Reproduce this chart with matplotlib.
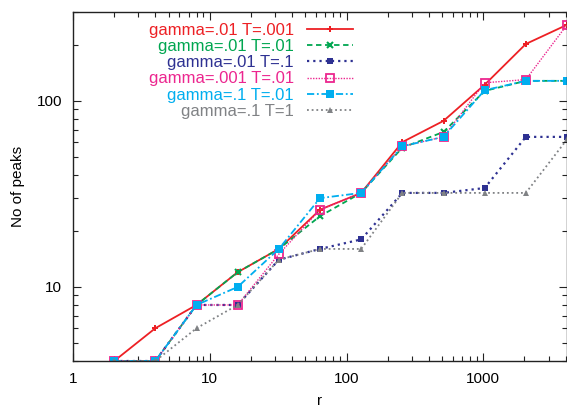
import matplotlib
matplotlib.use("Agg")
import matplotlib.pyplot as plt
from matplotlib.ticker import LogLocator, NullFormatter, FixedLocator, FixedFormatter

plt.rcParams['font.family'] = ['Liberation Sans', 'DejaVu Sans']

# data
r = [2, 4, 8, 16, 32, 64, 128, 256, 512, 1024, 2048, 4096]
g01_t001 = [4, 6, 8, 12, 16, 26, 32, 60, 78, 122, 202, 256]
g01_t01 = [4, 4, 8, 12, 16, 24, 32, 56, 68, 113, 128, 128]
g01_t1 = [4, 4, 8, 8, 14, 16, 18, 32, 32, 34, 64, 64]
g001_t01 = [4, 4, 8, 8, 15, 26, 32, 57, 64, 125, 130, 256]
g1_t01 = [4, 4, 8, 10, 16, 30, 32, 57, 64, 114, 128, 128]
g1_t1 = [4, 4, 6, 8, 14, 16, 16, 32, 32, 32, 32, 62]

labels = ["gamma=.01 T=.001", "gamma=.01 T=.01", "gamma=.01 T=.1",
          "gamma=.001 T=.01", "gamma=.1 T=.01", "gamma=.1 T=1"]
colors = ["#ed2024", "#00a650", "#2e3192", "#ec268f", "#00aeef", "#808285"]

fig = plt.figure(figsize=(5.67, 4.11), dpi=100)
ax = fig.add_axes([73 / 567, 50 / 411, 494 / 567, 349 / 411])

ax.plot(r, g01_t001, color=colors[0], ls='-', lw=1.3, marker='P', ms=4.5,
        mew=0, label=labels[0])
ax.plot(r, g01_t01, color=colors[1], ls=(0, (3, 2)), lw=1.3, marker='x', ms=5,
        mew=1.5, label=labels[1])
ax.plot(r, g01_t1, color=colors[2], ls=(0, (1, 1.8)), lw=1.6, marker='s', ms=4.5,
        mew=0, label=labels[2])
ax.plot(r, g001_t01, color=colors[3], ls=(0, (1, 1)), lw=1.0, marker='s', ms=5.5,
        mfc='none', mew=1.3, label=labels[3])
ax.plot(r, g1_t01, color=colors[4], ls=(0, (4, 1.5, 1, 1.5)), lw=1.3, marker='s',
        ms=5.5, mew=0, label=labels[4])
ax.plot(r, g1_t1, color=colors[5], ls=(0, (1, 1.6)), lw=1.3, marker='^', ms=4,
        mew=0, label=labels[5])

ax.set_xscale('log')
ax.set_yscale('log')
ax.set_xlim(1, 4096)
ax.set_ylim(4, 300)

ax.xaxis.set_major_locator(FixedLocator([1, 10, 100, 1000]))
ax.xaxis.set_major_formatter(FixedFormatter(['1', '10', '100', '1000']))
ax.xaxis.set_minor_locator(LogLocator(base=10, subs=range(2, 10)))
ax.xaxis.set_minor_formatter(NullFormatter())
ax.yaxis.set_major_locator(FixedLocator([10, 100]))
ax.yaxis.set_major_formatter(FixedFormatter(['10', '100']))
ax.yaxis.set_minor_locator(LogLocator(base=10, subs=range(2, 10)))
ax.yaxis.set_minor_formatter(NullFormatter())

ax.tick_params(which='both', direction='in', top=True, right=True,
               labelsize=11, color='#222222')
ax.tick_params(which='major', length=6, width=0.8, pad=8)
ax.tick_params(which='minor', length=3.5, width=0.8)
for s in ax.spines.values():
    s.set_linewidth(1.0)
    s.set_color('#222222')

ax.set_xlabel('r', fontsize=11, labelpad=6)
ax.set_ylabel('No of peaks', fontsize=11, labelpad=8)

leg = ax.legend(loc='upper right', bbox_to_anchor=(353 / 567, 1 - 23 / 411),
                bbox_transform=fig.transFigure, frameon=False, markerfirst=False,
                fontsize=12, handlelength=2.75, handletextpad=0.8,
                labelspacing=0.07, borderpad=0, borderaxespad=0)
for txt, c in zip(leg.get_texts(), colors):
    txt.set_color(c)

plt.savefig('out.png', dpi=100)
